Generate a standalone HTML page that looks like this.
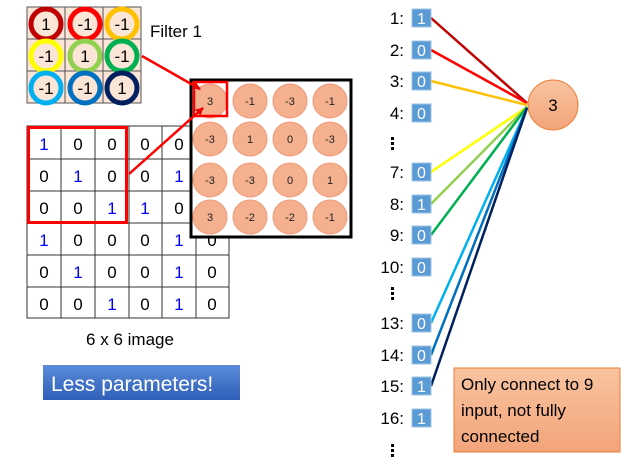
<!DOCTYPE html>
<html><head><meta charset="utf-8"><style>
html,body{margin:0;padding:0;background:#fff;}
svg{display:block;font-family:"Liberation Sans",sans-serif;}
</style></head><body>
<svg width="640" height="462" viewBox="0 0 640 462" xmlns="http://www.w3.org/2000/svg">
<defs>
<marker id="ar" markerWidth="8" markerHeight="8" refX="7" refY="4" orient="auto" markerUnits="userSpaceOnUse"><path d="M0,0 L8,4 L0,8 z" fill="#e00"/></marker>
<linearGradient id="bt" x1="0" y1="0" x2="0" y2="1"><stop offset="0" stop-color="#5b8bd9"/><stop offset="1" stop-color="#2f5fb8"/></linearGradient>
<linearGradient id="nt" x1="0" y1="0" x2="0" y2="1"><stop offset="0" stop-color="#f8c3a0"/><stop offset="1" stop-color="#f3a47a"/></linearGradient>
</defs>
<!-- filter grid -->
<rect x="27" y="7" width="114" height="96" fill="#fbe5d6" stroke="#555" stroke-width="1"/>
<g stroke="#555" stroke-width="1">
<line x1="65" y1="7" x2="65" y2="103"/><line x1="103" y1="7" x2="103" y2="103"/>
<line x1="27" y1="39" x2="141" y2="39"/><line x1="27" y1="71" x2="141" y2="71"/>
</g>
<g fill="none" stroke-width="5">
<circle cx="46" cy="24" r="15" stroke="#c00000"/>
<circle cx="85" cy="24" r="15" stroke="#ff0000"/>
<circle cx="122" cy="24" r="15" stroke="#ffc000"/>
<circle cx="46" cy="56" r="15" stroke="#ffff00"/>
<circle cx="85" cy="56" r="15" stroke="#92d050"/>
<circle cx="122" cy="56" r="15" stroke="#00b050"/>
<circle cx="46" cy="88" r="15" stroke="#00b0f0"/>
<circle cx="85" cy="88" r="15" stroke="#0070c0"/>
<circle cx="122" cy="88" r="15" stroke="#002060"/>
</g>
<g font-size="17" text-anchor="middle" fill="#000">
<text x="46" y="30">1</text><text x="85" y="30">-1</text><text x="122" y="30">-1</text>
<text x="46" y="62">-1</text><text x="85" y="62">1</text><text x="122" y="62">-1</text>
<text x="46" y="94">-1</text><text x="85" y="94">-1</text><text x="122" y="94">1</text>
</g>
<text x="150" y="37" font-size="17">Filter 1</text>
<!-- image grid -->
<g stroke="#333" stroke-width="1" fill="none">
<rect x="27" y="126" width="202" height="192"/>
<line x1="61" y1="126" x2="61" y2="318"/><line x1="95" y1="126" x2="95" y2="318"/><line x1="129" y1="126" x2="129" y2="318"/><line x1="162" y1="126" x2="162" y2="318"/><line x1="196" y1="126" x2="196" y2="318"/>
<line x1="27" y1="159" x2="229" y2="159"/><line x1="27" y1="191" x2="229" y2="191"/><line x1="27" y1="223" x2="229" y2="223"/><line x1="27" y1="255" x2="229" y2="255"/><line x1="27" y1="287" x2="229" y2="287"/>
</g>
<g font-size="17" text-anchor="middle">
<text x="44" y="150" fill="#00f">1</text><text x="78" y="150">0</text><text x="112" y="150">0</text><text x="145" y="150">0</text><text x="179" y="150">0</text><text x="212" y="150">0</text>
<text x="44" y="182">0</text><text x="78" y="182" fill="#00f">1</text><text x="112" y="182">0</text><text x="145" y="182">0</text><text x="179" y="182" fill="#00f">1</text><text x="212" y="182">0</text>
<text x="44" y="214">0</text><text x="78" y="214">0</text><text x="112" y="214" fill="#00f">1</text><text x="145" y="214" fill="#00f">1</text><text x="179" y="214">0</text><text x="212" y="214">0</text>
<text x="44" y="246" fill="#00f">1</text><text x="78" y="246">0</text><text x="112" y="246">0</text><text x="145" y="246">0</text><text x="179" y="246" fill="#00f">1</text><text x="212" y="246">0</text>
<text x="44" y="278">0</text><text x="78" y="278" fill="#00f">1</text><text x="112" y="278">0</text><text x="145" y="278">0</text><text x="179" y="278" fill="#00f">1</text><text x="212" y="278">0</text>
<text x="44" y="310">0</text><text x="78" y="310">0</text><text x="112" y="310" fill="#00f">1</text><text x="145" y="310">0</text><text x="179" y="310" fill="#00f">1</text><text x="212" y="310">0</text>
</g>
<rect x="28.5" y="127.5" width="98" height="95" fill="none" stroke="#f00" stroke-width="3"/>
<!-- output box -->
<rect x="191" y="80" width="160" height="157" fill="#fff" stroke="#000" stroke-width="3"/>
<g fill="#f4b08f" stroke="#f09a78" stroke-width="1">
<circle cx="210" cy="101" r="17"/><circle cx="250" cy="101" r="17"/><circle cx="290" cy="101" r="17"/><circle cx="330" cy="101" r="17"/>
<circle cx="210" cy="139" r="17"/><circle cx="250" cy="139" r="17"/><circle cx="290" cy="139" r="17"/><circle cx="330" cy="139" r="17"/>
<circle cx="210" cy="180" r="17"/><circle cx="250" cy="180" r="17"/><circle cx="290" cy="180" r="17"/><circle cx="330" cy="180" r="17"/>
<circle cx="210" cy="217" r="17"/><circle cx="250" cy="217" r="17"/><circle cx="290" cy="217" r="17"/><circle cx="330" cy="217" r="17"/>
</g>
<g font-size="11" text-anchor="middle" fill="#222">
<text x="210" y="105">3</text><text x="250" y="105">-1</text><text x="290" y="105">-3</text><text x="330" y="105">-1</text>
<text x="210" y="143">-3</text><text x="250" y="143">1</text><text x="290" y="143">0</text><text x="330" y="143">-3</text>
<text x="210" y="184">-3</text><text x="250" y="184">-3</text><text x="290" y="184">0</text><text x="330" y="184">1</text>
<text x="210" y="221">3</text><text x="250" y="221">-2</text><text x="290" y="221">-2</text><text x="330" y="221">-1</text>
</g>
<rect x="194" y="82" width="33" height="34" fill="none" stroke="#f00" stroke-width="2.5"/>
<line x1="142" y1="56" x2="200" y2="89" stroke="#f00" stroke-width="2.5" marker-end="url(#ar)"/>
<line x1="129" y1="174" x2="203" y2="108" stroke="#f00" stroke-width="2.5" marker-end="url(#ar)"/>
<text x="130" y="345" font-size="17" text-anchor="middle">6 x 6 image</text>
<rect x="43" y="365" width="197" height="35" fill="url(#bt)"/>
<text x="51" y="391" font-size="21" fill="#fff">Less parameters!</text>
<!-- right side -->
<g stroke-width="2.5">
<line x1="431" y1="18" x2="527" y2="103" stroke="#c00000"/>
<line x1="431" y1="50" x2="527" y2="103" stroke="#ff0000"/>
<line x1="431" y1="81" x2="527" y2="105" stroke="#ffc000"/>
<line x1="431" y1="172" x2="527" y2="107" stroke="#ffff00"/>
<line x1="431" y1="204" x2="527" y2="107" stroke="#92d050"/>
<line x1="431" y1="235" x2="527" y2="107" stroke="#00b050"/>
<line x1="431" y1="323" x2="527" y2="108" stroke="#00b0f0"/>
<line x1="431" y1="355" x2="527" y2="108" stroke="#0070c0"/>
<line x1="431" y1="386" x2="527" y2="108" stroke="#002060"/>
</g>
<circle cx="553" cy="105" r="25" fill="url(#nt)" stroke="#ed7d31" stroke-width="1"/>
<text x="553" y="111" font-size="17" text-anchor="middle">3</text>
<g fill="#5b9bd5" stroke="#9dc3e6" stroke-width="1">
<rect x="412" y="9" width="19" height="18"/><rect x="412" y="41" width="19" height="18"/><rect x="412" y="72" width="19" height="18"/><rect x="412" y="104" width="19" height="18"/>
<rect x="412" y="163" width="19" height="18"/><rect x="412" y="195" width="19" height="18"/><rect x="412" y="226" width="19" height="18"/><rect x="412" y="258" width="19" height="18"/>
<rect x="412" y="314" width="19" height="18"/><rect x="412" y="346" width="19" height="18"/><rect x="412" y="377" width="19" height="18"/><rect x="412" y="409" width="19" height="18"/>
</g>
<g font-size="16" fill="#fff" text-anchor="middle">
<text x="421.5" y="24">1</text><text x="421.5" y="56">0</text><text x="421.5" y="87">0</text><text x="421.5" y="119">0</text>
<text x="421.5" y="178">0</text><text x="421.5" y="210">1</text><text x="421.5" y="241">0</text><text x="421.5" y="273">0</text>
<text x="421.5" y="329">0</text><text x="421.5" y="361">0</text><text x="421.5" y="392">1</text><text x="421.5" y="424">1</text>
</g>
<g font-size="17" text-anchor="end" fill="#000">
<text x="404" y="24">1:</text><text x="404" y="56">2:</text><text x="404" y="87">3:</text><text x="404" y="119">4:</text>
<text x="404" y="178">7:</text><text x="404" y="210">8:</text><text x="404" y="241">9:</text><text x="404" y="273">10:</text>
<text x="404" y="329">13:</text><text x="404" y="361">14:</text><text x="404" y="392">15:</text><text x="404" y="424">16:</text>
</g>
<g fill="#000">
<rect x="391" y="137" width="3" height="3"/><rect x="391" y="142" width="3" height="3"/><rect x="391" y="147" width="3" height="3"/>
<rect x="391" y="287" width="3" height="3"/><rect x="391" y="292" width="3" height="3"/><rect x="391" y="297" width="3" height="3"/>
<rect x="391" y="444" width="3" height="3"/><rect x="391" y="449" width="3" height="3"/><rect x="391" y="454" width="3" height="3"/>
</g>
<rect x="454" y="368" width="166" height="84" fill="url(#nt)" stroke="#ed7d31" stroke-width="1"/>
<g font-size="17" fill="#000">
<text x="461" y="390">Only connect to 9</text>
<text x="461" y="416">input, not fully</text>
<text x="461" y="442">connected</text>
</g>
</svg>
</body></html>
